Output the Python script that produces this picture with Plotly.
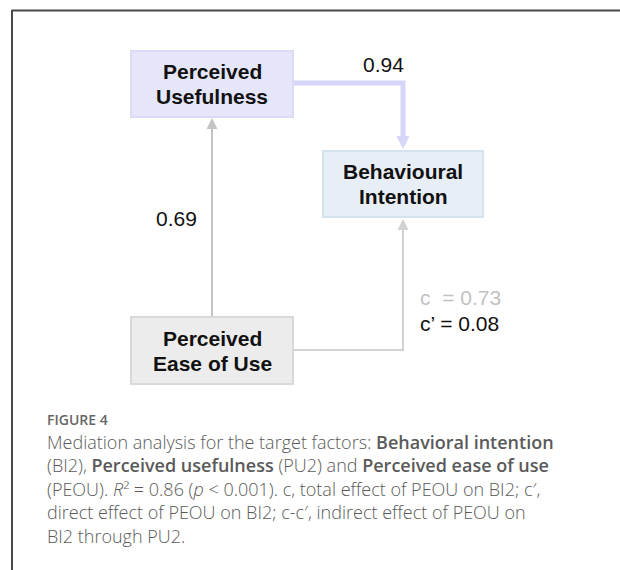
import plotly.graph_objects as go

# ---- data ----
node_names = ["PU", "BI", "PEOU"]
node_lines = [["Perceived", "Usefulness"], ["Behavioural", "Intention"], ["Perceived", "Ease of Use"]]
path_a = 0.69        # PEOU -> PU
path_b = 0.94        # PU -> BI
path_c = 0.73        # total effect PEOU -> BI
path_c_prime = 0.08  # direct effect PEOU -> BI

SB = '<span style="font-weight:600">'
caption_title = "FIGURE 4"
caption_lines = [
    f"Mediation analysis for the target factors: {SB}Behavioral intention</span>",
    f"(BI2), {SB}Perceived usefulness</span> (PU2) and {SB}Perceived ease of use</span>",
    "(PEOU). <i>R</i>\u00b2 = 0.86 (<i>p</i> &lt; 0.001). c, total effect of PEOU on BI2; c\u2032,",
    "direct effect of PEOU on BI2; c-c\u2032, indirect effect of PEOU on",
    "BI2 through PU2.",
]

# ---- layout geometry (screen-pixel coordinates) ----
boxes = {
    "PU": dict(x0=131, x1=293, y0=51, y1=117, fill="#e6e6fa", line="#dadaf4"),
    "BI": dict(x0=323, x1=483, y0=151, y1=217, fill="#e8eef6", line="#d4e2ee"),
    "PEOU": dict(x0=131, x1=293, y0=317, y1=384, fill="#ececec", line="#d9d9d9"),
}
line_gap = 25

fig = go.Figure()
shapes = []
annotations = []

# frame lines (top & left)
shapes.append(dict(type="line", x0=11.5, x1=625, y0=10.5, y1=10.5, line=dict(color="#4a4a4a", width=2)))
shapes.append(dict(type="line", x0=12, x1=12, y0=10, y1=575, line=dict(color="#4a4a4a", width=2)))

xm_pu = (boxes["PU"]["x0"] + boxes["PU"]["x1"]) / 2
x_bi = (boxes["BI"]["x0"] + boxes["BI"]["x1"]) / 2
gray1 = "#c4c4c4"
gray2 = "#d2d2d2"
lav = "#d6d6f8"

# PEOU -> PU
pu_b = boxes["PU"]["y1"]
shapes.append(dict(type="line", x0=xm_pu, x1=xm_pu, y0=boxes["PEOU"]["y0"], y1=pu_b + 10,
                   line=dict(color=gray1, width=2)))
shapes.append(dict(type="path", path=f"M {xm_pu-5.5},{pu_b+12} L {xm_pu+5.5},{pu_b+12} L {xm_pu},{pu_b+1} Z",
                   fillcolor=gray1, line=dict(width=0)))
# PU -> BI
yb = 83
bi_t = boxes["BI"]["y0"]
shapes.append(dict(type="path", path=f"M {boxes['PU']['x1']},{yb} L {x_bi},{yb} L {x_bi},{bi_t-12}",
                   line=dict(color=lav, width=5)))
shapes.append(dict(type="path", path=f"M {x_bi-6.5},{bi_t-15} L {x_bi+6.5},{bi_t-15} L {x_bi},{bi_t-2} Z",
                   fillcolor=lav, line=dict(width=0)))
# PEOU -> BI
yc = 350
bi_b = boxes["BI"]["y1"]
shapes.append(dict(type="path", path=f"M {boxes['PEOU']['x1']},{yc} L {x_bi},{yc} L {x_bi},{bi_b+10}",
                   line=dict(color=gray2, width=2)))
shapes.append(dict(type="path", path=f"M {x_bi-5.5},{bi_b+13} L {x_bi+5.5},{bi_b+13} L {x_bi},{bi_b+2} Z",
                   fillcolor=gray2, line=dict(width=0)))

# boxes
box_font = dict(family="Liberation Sans, Arial", size=21, color="#111111")
for name, lines in zip(node_names, node_lines):
    b = boxes[name]
    shapes.append(dict(type="rect", x0=b["x0"], x1=b["x1"], y0=b["y0"], y1=b["y1"],
                       fillcolor=b["fill"], line=dict(color=b["line"], width=2)))
    cx = (b["x0"] + b["x1"]) / 2
    cy = (b["y0"] + b["y1"]) / 2
    for i, t in enumerate(lines):
        annotations.append(dict(x=cx, y=cy + (i - 0.5) * line_gap, text=f"<b>{t}</b>", showarrow=False,
                                font=box_font, xanchor="center", yanchor="middle"))

lab_font = dict(family="Liberation Sans, Arial", size=21, color="#111111")
annotations.append(dict(x=383.5, y=64, text=f"{path_b:.2f}", showarrow=False, font=lab_font,
                        xanchor="center", yanchor="middle"))
annotations.append(dict(x=176, y=218, text=f"{path_a:.2f}", showarrow=False, font=lab_font,
                        xanchor="center", yanchor="middle"))
annotations.append(dict(x=418, y=297, text=f"c  = {path_c:.2f}", showarrow=False,
                        font=dict(family="Liberation Sans, Arial", size=21, color="#c2c2c2"),
                        xanchor="left", yanchor="middle"))
annotations.append(dict(x=418, y=323, text=f"c\u2019 = {path_c_prime:.2f}", showarrow=False, font=lab_font,
                        xanchor="left", yanchor="middle"))

# caption
annotations.append(dict(x=45, y=419, text=caption_title, showarrow=False,
                        font=dict(family="Open Sans", size=14, color="#666666", weight=600),
                        xanchor="left", yanchor="middle"))
annotations.append(dict(x=45, y=488.5, text="<br>".join(caption_lines), showarrow=False,
                        align="left",
                        font=dict(family="Open Sans", size=18, color="#5a5a5a", weight=300),
                        xanchor="left", yanchor="middle"))

fig.update_layout(
    width=620, height=570,
    margin=dict(l=0, r=0, t=0, b=0),
    paper_bgcolor="white", plot_bgcolor="white",
    xaxis=dict(range=[0, 620], visible=False, fixedrange=True),
    yaxis=dict(range=[570, 0], visible=False, fixedrange=True),
    shapes=shapes, annotations=annotations,
    showlegend=False,
)
# remove the default 8px page margin so the figure fills the window exactly
fig.write_html("out.html", config={"displayModeBar": False},
               post_script="document.body.style.margin='0';document.body.style.overflow='hidden';")
